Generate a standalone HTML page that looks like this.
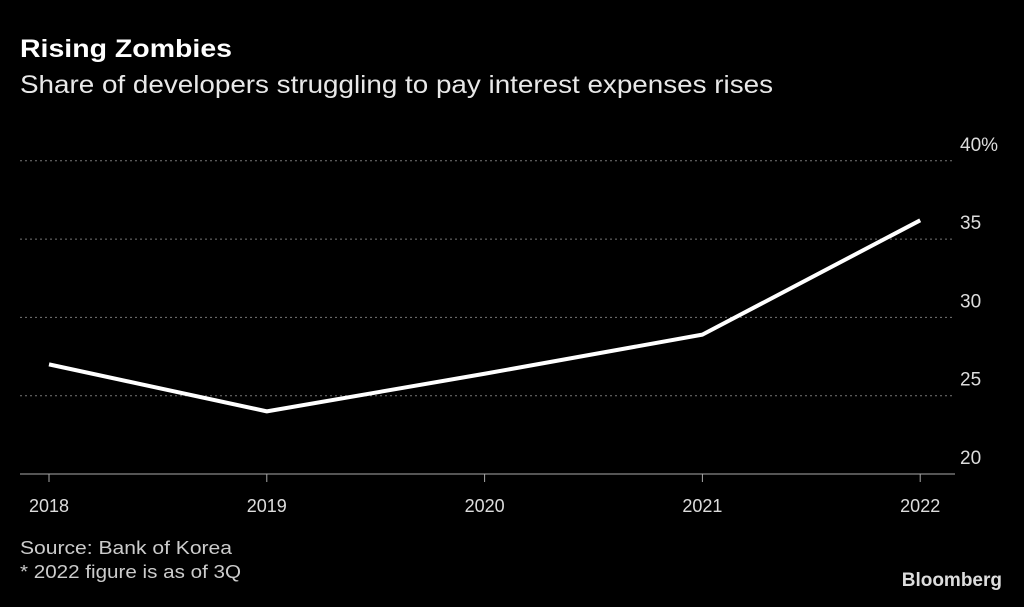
<!DOCTYPE html>
<html><head><meta charset="utf-8"><style>
body{margin:0;background:#000;width:1024px;height:602px;overflow:hidden;font-family:"Liberation Sans",sans-serif;color:#fff}
</style></head><body>
<svg width="1024" height="602" xmlns="http://www.w3.org/2000/svg">
<text x="20" y="57" font-size="25" font-weight="bold" fill="#fff" textLength="212" lengthAdjust="spacingAndGlyphs">Rising Zombies</text>
<text x="20" y="93" font-size="25" fill="#e8e8e8" textLength="753" lengthAdjust="spacingAndGlyphs">Share of developers struggling to pay interest expenses rises</text>
<g id="grid"></g>
<g id="xaxis"></g>
<path id="line" fill="none" stroke="#fff" stroke-width="4" stroke-linejoin="round"/>
<text x="20" y="554" font-size="18" fill="#ccc" textLength="212" lengthAdjust="spacingAndGlyphs">Source: Bank of Korea</text>
<text x="20" y="578" font-size="18" fill="#ccc" textLength="221" lengthAdjust="spacingAndGlyphs">* 2022 figure is as of 3Q</text>
<text x="1002" y="586" font-size="19" font-weight="bold" fill="#ddd" text-anchor="end">Bloomberg</text>
</svg>
<script>
const years=["2018","2019","2020","2021","2022"];
const values=[27.0,24.0,26.4,28.9,36.2];
const yTicks=[20,25,30,35,40];
const yTickLabels=["20","25","30","35","40%"];
const NS="http://www.w3.org/2000/svg";
const xS=i=>49+i*217.8;
const yS=v=>474-(v-20)*15.66;
const grid=document.getElementById('grid');
yTicks.forEach((t,i)=>{
 const y=yS(t);
 if(t!==20){const l=document.createElementNS(NS,'line');
 
 
 l.setAttribute('x1',20);l.setAttribute('x2',955);l.setAttribute('y1',y);l.setAttribute('y2',y);
 l.setAttribute('stroke','#777');l.setAttribute('stroke-dasharray','2,3');grid.appendChild(l);}
 const tx=document.createElementNS(NS,'text');
 
 
 tx.setAttribute('x',960);tx.setAttribute('y',y-10);tx.setAttribute('font-size','19');tx.setAttribute('fill','#ddd');
 tx.textContent=yTickLabels[i];grid.appendChild(tx);
});
const xa=document.getElementById('xaxis');
const b=document.createElementNS(NS,'line');


b.setAttribute('x1',20);b.setAttribute('x2',955);b.setAttribute('y1',474);b.setAttribute('y2',474);b.setAttribute('stroke','#aaa');xa.appendChild(b);
years.forEach((yr,i)=>{
 const x=xS(i);
 const t=document.createElementNS(NS,'line');
 
 
 t.setAttribute('x1',x);t.setAttribute('x2',x);t.setAttribute('y1',474);t.setAttribute('y2',482);t.setAttribute('stroke','#aaa');xa.appendChild(t);
 const tx=document.createElementNS(NS,'text');
 
 
 tx.setAttribute('x',x);tx.setAttribute('y',512);tx.setAttribute('font-size','18');tx.setAttribute('fill','#ddd');tx.setAttribute('text-anchor','middle');
 tx.textContent=yr;xa.appendChild(tx);
});
document.getElementById('line').setAttribute('d',values.map((v,i)=>(i?'L':'M')+xS(i)+','+yS(v)).join(' '));
</script>
</body></html>
